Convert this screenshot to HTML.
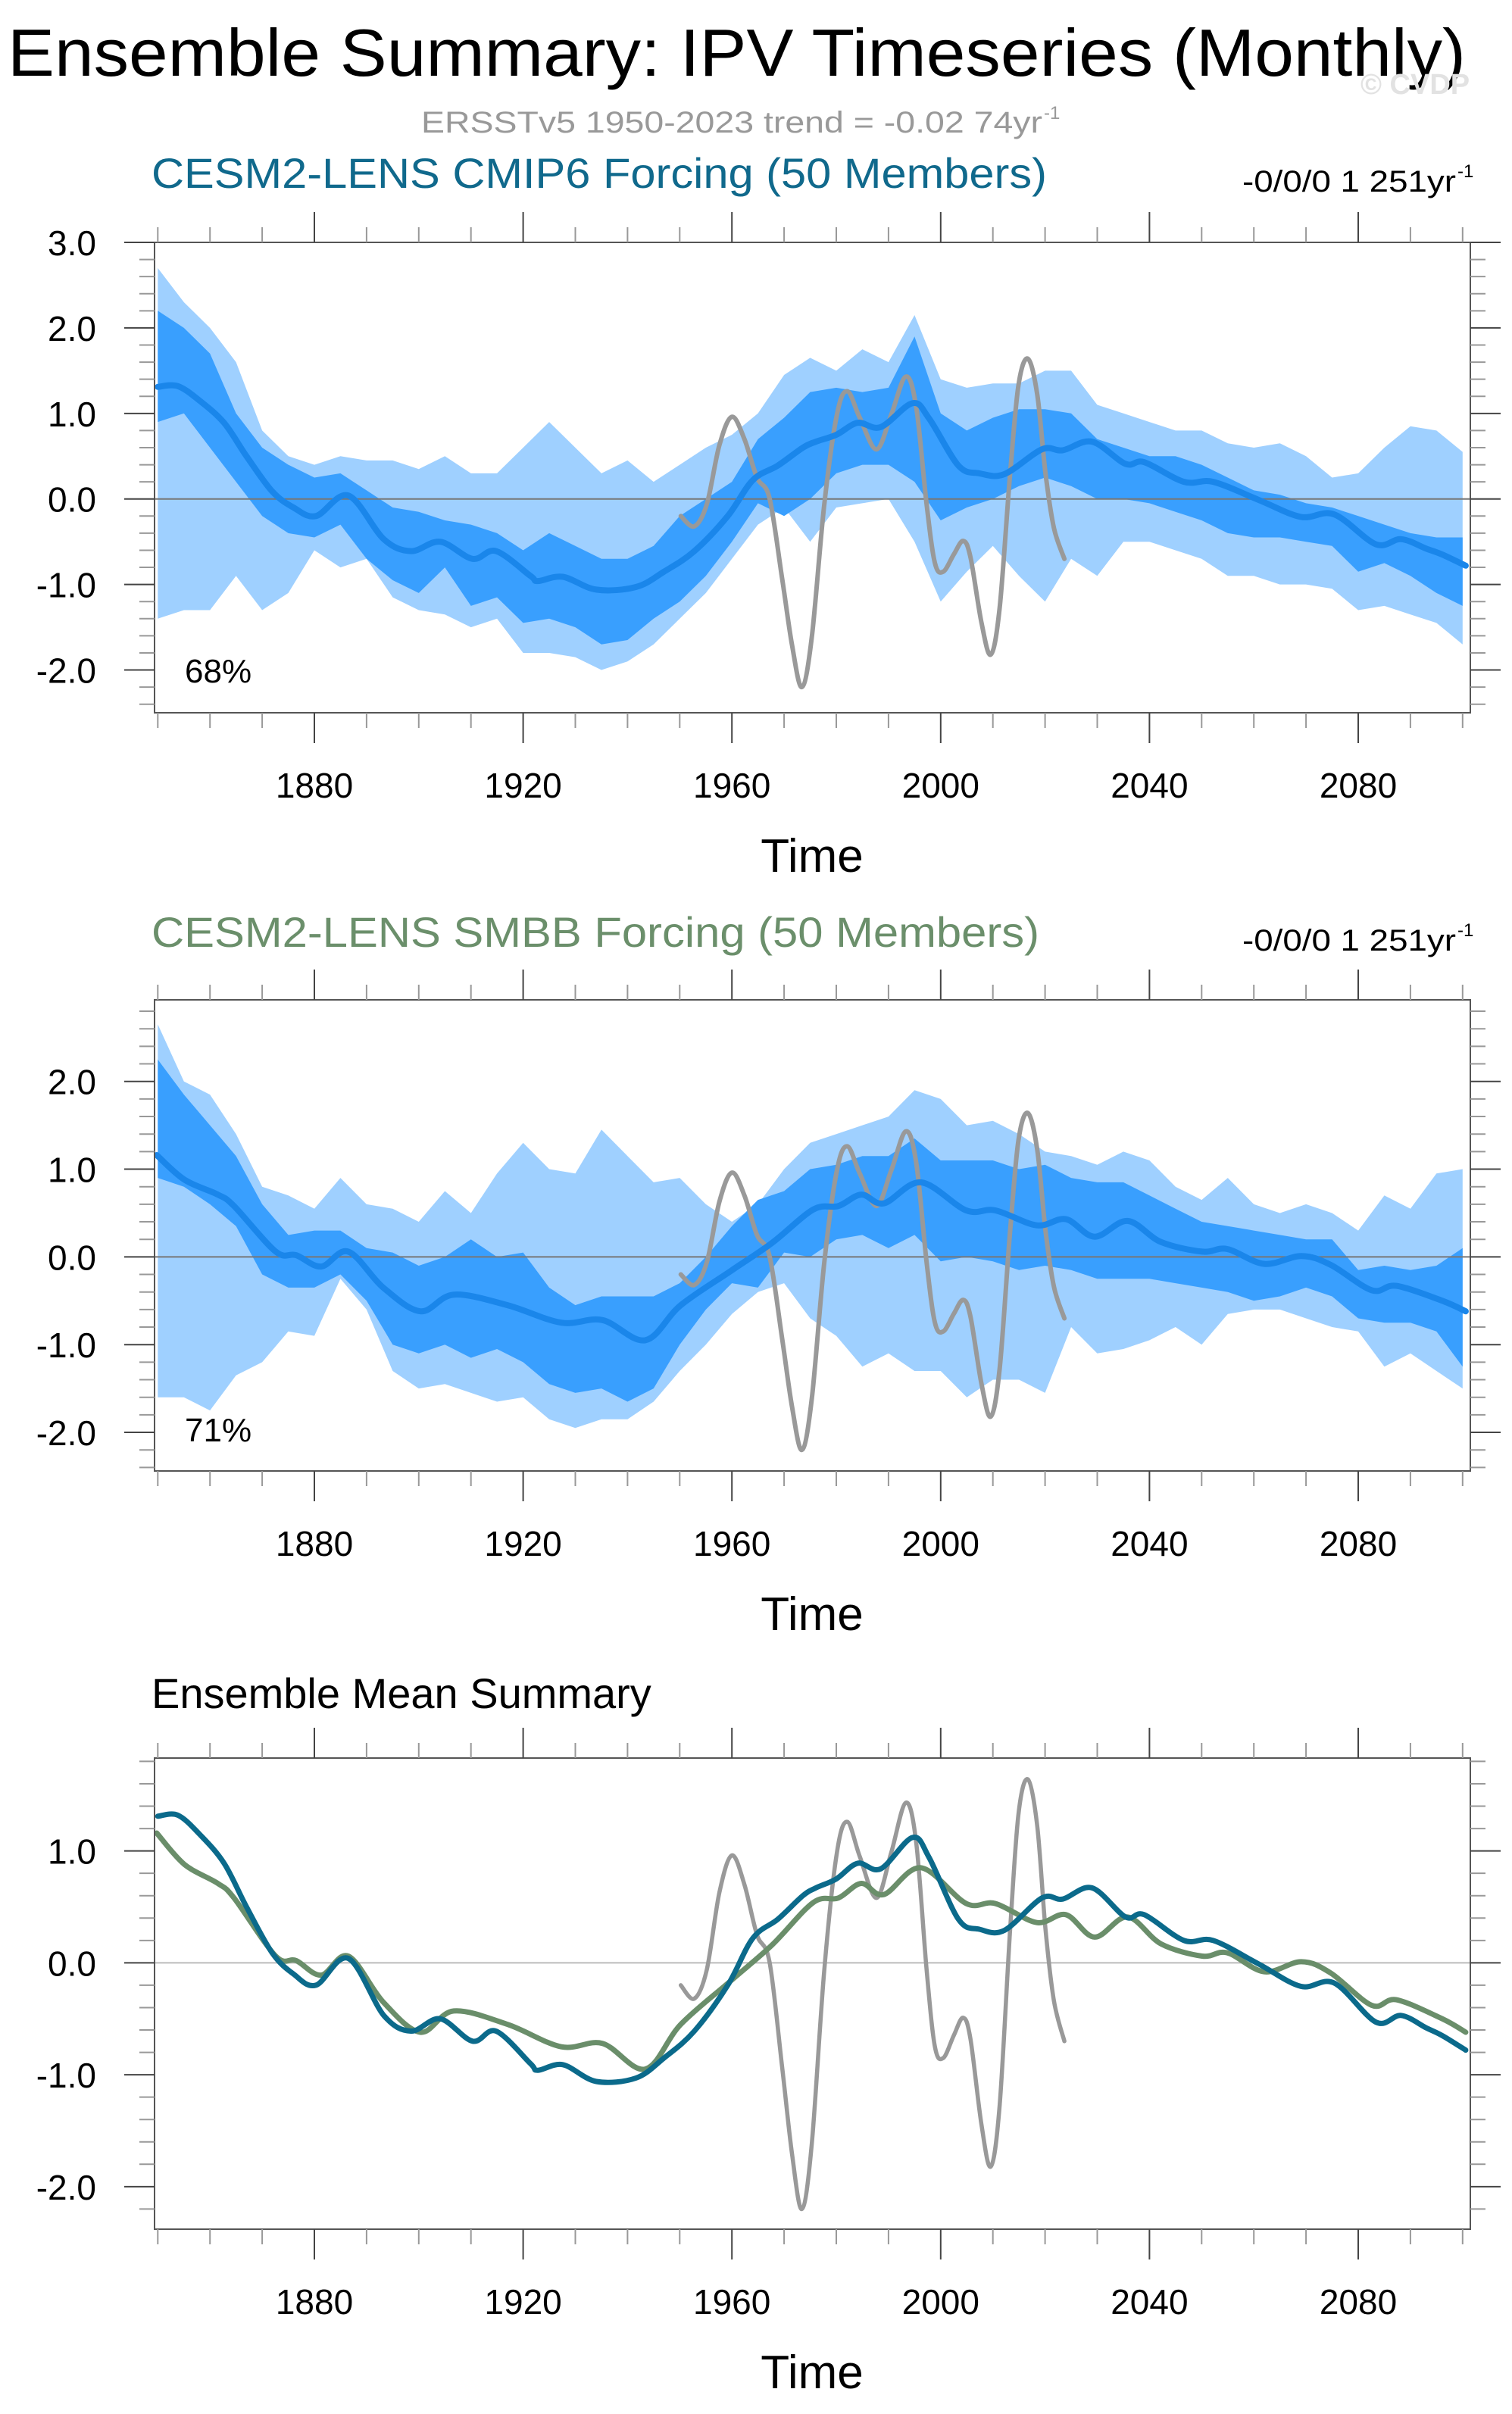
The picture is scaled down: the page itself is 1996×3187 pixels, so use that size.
<!DOCTYPE html>
<html><head><meta charset="utf-8"><style>
html,body{margin:0;padding:0;background:#fff}
svg{display:block}
text{font-family:"Liberation Sans",Arial,sans-serif}
</style></head><body>
<svg id="fig" width="1996" height="3187" viewBox="0 0 1996 3187" xmlns="http://www.w3.org/2000/svg">
<text x="10" y="100" font-size="88" textLength="1925" lengthAdjust="spacingAndGlyphs" fill="#000">Ensemble Summary: IPV Timeseries (Monthly)</text>
<text x="1796" y="124" font-size="38" font-weight="bold" fill="#e2e2e2">© CVDP</text>
<text x="556" y="175" font-size="40" fill="#999" textLength="820" lengthAdjust="spacingAndGlyphs">ERSSTv5 1950-2023 trend = -0.02 74yr</text>
<text x="1378" y="157" font-size="24" fill="#999">-1</text>

<text x="200" y="248" font-size="56" fill="#10698c" textLength="1182" lengthAdjust="spacingAndGlyphs">CESM2-LENS CMIP6 Forcing (50 Members)</text>
<text x="1640" y="253" font-size="40" fill="#000" textLength="282" lengthAdjust="spacingAndGlyphs">-0/0/0 1 251yr</text>
<text x="1924" y="234" font-size="24" fill="#000">-1</text>

<text x="200" y="1250" font-size="56" fill="#6b8f6b" textLength="1172" lengthAdjust="spacingAndGlyphs">CESM2-LENS SMBB Forcing (50 Members)</text>
<text x="1640" y="1255" font-size="40" fill="#000" textLength="282" lengthAdjust="spacingAndGlyphs">-0/0/0 1 251yr</text>
<text x="1924" y="1236" font-size="24" fill="#000">-1</text>

<text x="200" y="2255" font-size="56" fill="#000">Ensemble Mean Summary</text>
</svg>
<script>
// ---- data ----
const bandYears = [1850,1855,1860,1865,1870,1875,1880,1885,1890,1895,1900,1905,1910,1915,1920,1925,1930,1935,1940,1945,1950,1955,1960,1965,1970,1975,1980,1985,1990,1995,2000,2005,2010,2015,2020,2025,2030,2035,2040,2045,2050,2055,2060,2065,2070,2075,2080,2085,2090,2095,2100];
const cmipOuterHi = [2.7,2.3,2.0,1.6,0.8,0.5,0.4,0.5,0.45,0.45,0.35,0.5,0.3,0.3,0.6,0.9,0.6,0.3,0.45,0.2,0.4,0.6,0.75,1.0,1.45,1.65,1.5,1.75,1.6,2.15,1.4,1.3,1.35,1.35,1.5,1.5,1.1,1.0,0.9,0.8,0.8,0.65,0.6,0.65,0.5,0.25,0.3,0.6,0.85,0.8,0.55];
const cmipInnerHi = [2.2,2.0,1.7,1.0,0.6,0.4,0.25,0.3,0.1,-0.1,-0.15,-0.25,-0.3,-0.4,-0.6,-0.4,-0.55,-0.7,-0.7,-0.55,-0.2,0.0,0.2,0.7,0.95,1.25,1.3,1.25,1.3,1.9,1.0,0.8,0.95,1.05,1.05,1.0,0.7,0.6,0.5,0.5,0.4,0.25,0.1,0.05,-0.05,-0.1,-0.2,-0.3,-0.4,-0.45,-0.45];
const cmipInnerLo = [0.9,1.0,0.6,0.2,-0.2,-0.4,-0.45,-0.3,-0.7,-0.95,-1.1,-0.8,-1.25,-1.15,-1.45,-1.4,-1.5,-1.7,-1.65,-1.4,-1.2,-0.9,-0.5,-0.05,-0.2,0.0,0.3,0.4,0.4,0.2,-0.25,-0.1,0.0,0.15,0.25,0.15,0.0,0.0,-0.05,-0.15,-0.25,-0.4,-0.45,-0.45,-0.5,-0.55,-0.85,-0.75,-0.9,-1.1,-1.25];
const cmipOuterLo = [-1.4,-1.3,-1.3,-0.9,-1.3,-1.1,-0.6,-0.8,-0.7,-1.15,-1.3,-1.35,-1.5,-1.4,-1.8,-1.8,-1.85,-2.0,-1.9,-1.7,-1.4,-1.1,-0.7,-0.3,-0.1,-0.5,-0.1,-0.05,0.0,-0.5,-1.2,-0.85,-0.55,-0.9,-1.2,-0.7,-0.9,-0.5,-0.5,-0.6,-0.7,-0.9,-0.9,-1.0,-1.0,-1.05,-1.3,-1.25,-1.35,-1.45,-1.7];
const smbbOuterHi = [2.65,2.0,1.85,1.4,0.8,0.7,0.55,0.9,0.6,0.55,0.4,0.75,0.5,0.95,1.3,1.0,0.95,1.45,1.15,0.85,0.9,0.6,0.4,0.6,1.0,1.3,1.4,1.5,1.6,1.9,1.8,1.5,1.55,1.4,1.2,1.15,1.05,1.2,1.1,0.8,0.65,0.9,0.6,0.5,0.6,0.5,0.3,0.7,0.55,0.95,1.0];
const smbbInnerHi = [2.25,1.85,1.5,1.15,0.6,0.25,0.3,0.3,0.1,0.05,-0.1,0.0,0.2,0.0,0.05,-0.35,-0.55,-0.45,-0.45,-0.45,-0.3,0.0,0.35,0.65,0.75,1.0,1.05,1.15,1.15,1.35,1.1,1.1,1.1,1.0,1.05,0.9,0.85,0.85,0.7,0.55,0.4,0.35,0.3,0.25,0.2,0.2,-0.15,-0.1,-0.15,-0.1,0.1];
const smbbInnerLo = [0.9,0.8,0.6,0.35,-0.2,-0.35,-0.35,-0.2,-0.5,-1.0,-1.1,-1.0,-1.15,-1.05,-1.2,-1.45,-1.55,-1.5,-1.65,-1.5,-1.0,-0.6,-0.3,-0.35,0.05,0.0,0.2,0.25,0.1,0.25,-0.05,0.0,-0.05,-0.15,-0.1,-0.15,-0.25,-0.25,-0.25,-0.3,-0.35,-0.4,-0.5,-0.45,-0.35,-0.45,-0.7,-0.75,-0.75,-0.85,-1.25];
const smbbOuterLo = [-1.6,-1.6,-1.75,-1.35,-1.2,-0.85,-0.9,-0.25,-0.6,-1.3,-1.5,-1.45,-1.55,-1.65,-1.6,-1.85,-1.95,-1.85,-1.85,-1.65,-1.3,-1.0,-0.65,-0.4,-0.3,-0.7,-0.9,-1.25,-1.1,-1.3,-1.3,-1.6,-1.4,-1.4,-1.55,-0.8,-1.1,-1.05,-0.95,-0.8,-1.0,-0.65,-0.6,-0.6,-0.7,-0.8,-0.85,-1.25,-1.1,-1.3,-1.5];

const cmipMeanYears = [1850,1853.8,1858,1862.7,1867,1871.9,1876,1880.3,1886.5,1893.3,1898.5,1904.1,1910.3,1914.8,1921.4,1922.8,1927.6,1934,1941.6,1947,1952.8,1959.2,1964,1968.8,1973.6,1976.1,1980,1984.1,1988.5,1994.6,1997.8,2003.4,2007.4,2012.2,2019.4,2023.4,2029,2035.4,2039,2046.6,2052.2,2060.9,2069,2075.4,2083.4,2088.2,2093,2096.1,2100.6];
const cmipMeanVals = [1.31,1.32,1.15,0.89,0.5,0.09,-0.1,-0.2,0.04,-0.47,-0.61,-0.5,-0.7,-0.61,-0.9,-0.96,-0.91,-1.06,-1.03,-0.85,-0.61,-0.2,0.22,0.39,0.6,0.67,0.75,0.89,0.84,1.12,0.94,0.39,0.3,0.29,0.58,0.57,0.67,0.41,0.43,0.2,0.2,-0.01,-0.21,-0.18,-0.53,-0.47,-0.58,-0.65,-0.78];
const smbbMeanYears = [1849.8,1855.1,1861.5,1864.6,1872.6,1876.5,1881.3,1886.5,1893.2,1900.3,1906.7,1917,1927.3,1935.2,1943.4,1950.2,1959.8,1967.7,1975.6,1980.4,1984.8,1989.1,1996.2,2004.9,2010.5,2018.4,2024,2029.5,2035.8,2042.2,2050.1,2054.9,2062,2069.1,2074.7,2082.6,2087.3,2096.1,2100.6];
const smbbMeanVals = [1.16,0.88,0.71,0.58,0.06,0.02,-0.11,0.06,-0.35,-0.62,-0.43,-0.55,-0.75,-0.72,-0.95,-0.55,-0.16,0.16,0.54,0.58,0.71,0.61,0.85,0.53,0.53,0.36,0.43,0.23,0.41,0.17,0.06,0.09,-0.08,0.01,-0.09,-0.38,-0.33,-0.5,-0.62];
const obsYears = [1950.2,1952.8,1955.2,1957.6,1960,1962.4,1964.8,1967.2,1969.6,1971.5,1973.4,1975.3,1977.7,1980.1,1982.1,1984.5,1987.7,1990.5,1993.3,1995.3,1997.3,1998.9,2000.5,2002.5,2004.3,2005.7,2007.8,2009.6,2011.3,2013.3,2014.9,2016.7,2018.5,2020.1,2021.7,2023.7];
const obsVals = [-0.2,-0.32,-0.06,0.63,0.96,0.7,0.25,0.01,-0.92,-1.7,-2.2,-1.62,-0.06,0.98,1.26,0.95,0.58,0.98,1.43,1.08,-0.06,-0.75,-0.85,-0.65,-0.49,-0.68,-1.44,-1.82,-1.27,0.29,1.33,1.64,1.22,0.29,-0.34,-0.7];
const xTickLabels = ["1880","1920","1960","2000","2040","2080"];
const yLabels1 = ["3.0","2.0","1.0","0.0","-1.0","-2.0"];
const yLabels2 = ["2.0","1.0","0.0","-1.0","-2.0"];
const yLabels3 = ["1.0","0.0","-1.0","-2.0"];

// ---- drawing ----
const NS = "http://www.w3.org/2000/svg";
const svg = document.getElementById('fig');
const X0 = 204, X1 = 1941;
function xs(yr){ return 415 + (yr - 1880) * 6.89; }
function mk(tag, attrs, parent){
  const e = document.createElementNS(NS, tag);
  for (const k in attrs) e.setAttribute(k, attrs[k]);
  (parent || svg).appendChild(e);
  return e;
}
function smoothPath(pts){
  let d = "M" + pts[0][0].toFixed(1) + "," + pts[0][1].toFixed(1);
  for (let i = 0; i < pts.length - 1; i++){
    const p0 = pts[i-1] || pts[i], p1 = pts[i], p2 = pts[i+1], p3 = pts[i+2] || p2;
    const c1x = p1[0] + (p2[0]-p0[0])/6, c1y = p1[1] + (p2[1]-p0[1])/6;
    const c2x = p2[0] - (p3[0]-p1[0])/6, c2y = p2[1] - (p3[1]-p1[1])/6;
    d += " C" + c1x.toFixed(1)+","+c1y.toFixed(1)+" "+c2x.toFixed(1)+","+c2y.toFixed(1)+" "+p2[0].toFixed(1)+","+p2[1].toFixed(1);
  }
  return d;
}
function bandPath(hi, lo, ys){
  let d = "";
  bandYears.forEach((yr,i)=>{ const x = Math.min(Math.max(xs(yr),X0),X1); d += (i? "L":"M") + x.toFixed(1) + "," + ys(hi[i]).toFixed(1); });
  for (let i = bandYears.length-1; i >= 0; i--){ const x = Math.min(Math.max(xs(bandYears[i]),X0),X1); d += "L" + x.toFixed(1) + "," + ys(lo[i]).toFixed(1); }
  return d + "Z";
}
function panel(cfg){
  const top = cfg.top, bot = cfg.bot;
  const ys = v => top + (cfg.vmax - v) / (cfg.vmax - cfg.vmin) * (bot - top);
  const g = mk('g', {});
  
  
  if (cfg.bands){
    const o = mk('path', {d: bandPath(cfg.bands[0], cfg.bands[3], ys), fill:'#9fd0ff'}, g);
    
    
    const n = mk('path', {d: bandPath(cfg.bands[1], cfg.bands[2], ys), fill:'#399ffe'}, g);
    
    
  }
  const z = mk('line', {x1:X0, x2:X1, y1:ys(0), y2:ys(0), stroke: cfg.zeroColor, 'stroke-width':2}, g);
  
  
  cfg.lines.forEach(L=>{
    const pts = L.years.map((yr,i)=>[Math.min(xs(yr),X1-2), ys(L.vals[i])]);
    const p = mk('path', {d: smoothPath(pts), fill:'none', stroke:L.color, 'stroke-width':L.w, 'stroke-linecap':'round', 'stroke-linejoin':'round'}, g);
    
    
  });
  const box = mk('rect', {x:X0, y:top, width:X1-X0, height:bot-top, fill:'none', stroke:'#555', 'stroke-width':2}, g);
  
  
  for (let yr = 1850; yr <= 2100; yr += 10){
    const major = (yr - 1880) % 40 === 0;
    const x = xs(yr), len = major ? 40 : 20;
    mk('line', {x1:x, x2:x, y1:top, y2:top-len, stroke: major?'#444':'#999', 'stroke-width':2}, g);
    mk('line', {x1:x, x2:x, y1:bot, y2:bot+len, stroke: major?'#444':'#999', 'stroke-width':2}, g);
  }
  xTickLabels.forEach(lab=>{
    const t = mk('text', {x: xs(+lab), y: bot + 112, 'font-size':46, 'text-anchor':'middle', fill:'#000'}, g);
    t.textContent = lab;
    
    
  });
  const tt = mk('text', {x: 1072, y: bot + 210, 'font-size':62, 'text-anchor':'middle', fill:'#000'}, g);
  tt.textContent = 'Time';
  
  
  for (let k = Math.ceil(cfg.vmin*5-1e-6); k <= Math.floor(cfg.vmax*5+1e-6); k++){
    const v = k/5, major = (k % 5 === 0), y = ys(v), len = major ? 40 : 20;
    mk('line', {x1:X0, x2:X0-len, y1:y, y2:y, stroke: major?'#444':'#999', 'stroke-width':2}, g);
    mk('line', {x1:X1, x2:X1+len, y1:y, y2:y, stroke: major?'#444':'#999', 'stroke-width':2}, g);
  }
  cfg.yLabels.forEach(lab=>{
    const t = mk('text', {x:127, y: ys(parseFloat(lab)) + 17, 'font-size':46, 'text-anchor':'end', fill:'#000'}, g);
    t.textContent = lab;
    
    
  });
  if (cfg.pct){
    const t = mk('text', {x:244, y:cfg.pctY, 'font-size':44, fill:'#000'}, g);
    t.textContent = cfg.pct;
    
    
  }
}
panel({name:'cmip6-panel', top:320, bot:941, vmin:-2.5, vmax:3.0, yLabels:yLabels1,
  bands:[cmipOuterHi,cmipInnerHi,cmipInnerLo,cmipOuterLo], zeroColor:'#777',
  lines:[{name:'obs-ersst-line',years:obsYears,vals:obsVals,color:'#999',w:6},
         {name:'cmip6-mean-line',years:cmipMeanYears,vals:cmipMeanVals,color:'#1a86ea',w:8}],
  pct:'68%', pctY:901});
panel({name:'smbb-panel', top:1320, bot:1942, vmin:-2.44, vmax:2.93, yLabels:yLabels2,
  bands:[smbbOuterHi,smbbInnerHi,smbbInnerLo,smbbOuterLo], zeroColor:'#777',
  lines:[{name:'obs-ersst-line',years:obsYears,vals:obsVals,color:'#999',w:6},
         {name:'smbb-mean-line',years:smbbMeanYears,vals:smbbMeanVals,color:'#1a86ea',w:8}],
  pct:'71%', pctY:1903});
panel({name:'ensemble-mean-panel', top:2321, bot:2943, vmin:-2.38, vmax:1.83, yLabels:yLabels3,
  zeroColor:'#bbb',
  lines:[{name:'obs-ersst-line',years:obsYears,vals:obsVals,color:'#999',w:5.5},
         {name:'smbb-mean-line',years:smbbMeanYears,vals:smbbMeanVals,color:'#6a8e6a',w:7},
         {name:'cmip6-mean-line',years:cmipMeanYears,vals:cmipMeanVals,color:'#0b6a8b',w:7}]});
</script>
</body></html>
